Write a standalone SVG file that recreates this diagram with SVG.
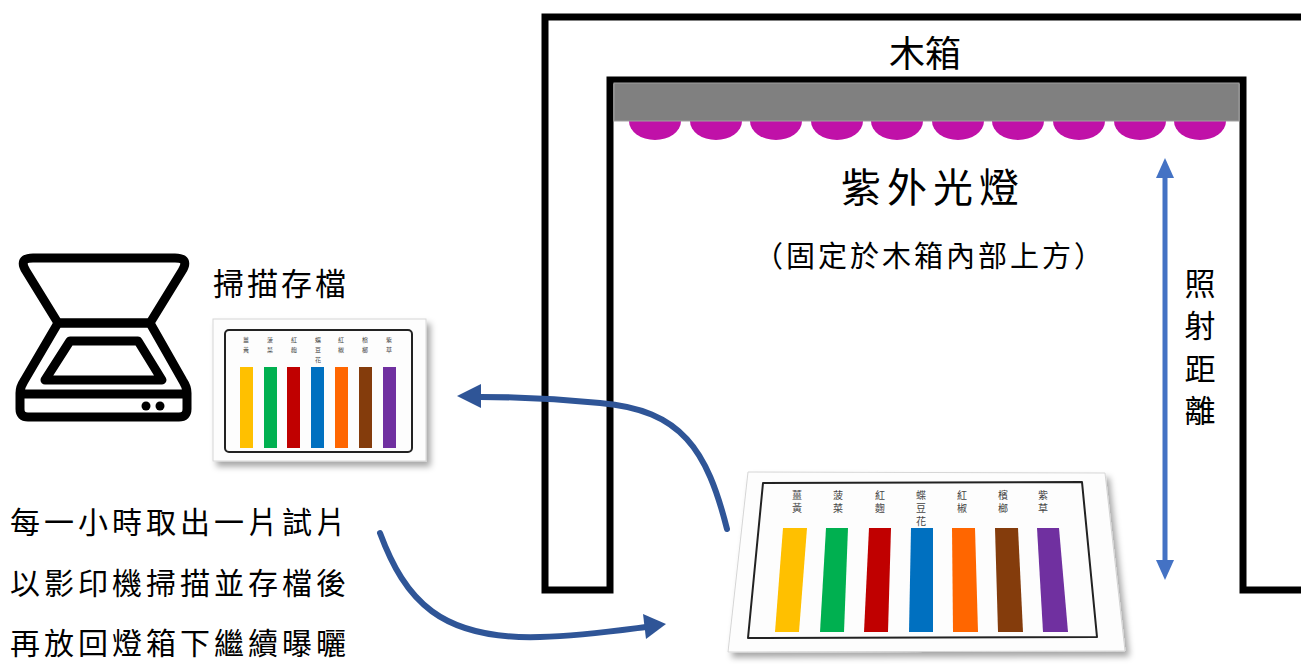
<svg xmlns="http://www.w3.org/2000/svg" width="1301" height="664" viewBox="0 0 1301 664">
  <defs>
    <style>
      .t { font-family: "Noto Sans CJK TC", "Noto Sans CJK SC", sans-serif; fill: #000; }
      .lbl { font-family: "Noto Sans CJK TC", "Noto Sans CJK SC", sans-serif; fill: #444; text-anchor: middle; }
      .wall { fill: #fff; stroke: #000; stroke-width: 7; stroke-linejoin: miter; }
      .lamp { fill: #C011A8; }
      .icon { fill: none; stroke: #000; stroke-width: 9; stroke-linejoin: round; stroke-linecap: round; }
      .flow { fill: none; stroke: #2F5597; stroke-width: 6; stroke-linecap: round; }
      .card { fill: #fdfdfd; stroke: #d6d6d6; stroke-width: 1; }
      .frame { fill: none; stroke: #222; stroke-width: 2; stroke-linejoin: round; }
    </style>
    <filter id="shadow" x="-10%" y="-10%" width="125%" height="130%">
      <feDropShadow dx="4" dy="5" stdDeviation="3" flood-color="#000" flood-opacity="0.35"/>
    </filter>
  </defs>

  <rect width="1301" height="664" fill="#fff"/>

  <!-- wooden box wall (U-shaped section) -->
  <g id="box">
    <path class="wall" d="M545,590 V17 H1310 V590 H1243 V80 H610 V590 Z"/>
    <text class="t" x="925" y="67" font-size="36" text-anchor="middle">木箱</text>
  </g>

  <!-- UV lamp strip -->
  <g id="uv-lamp">
    <g>
      <ellipse class="lamp" cx="655" cy="121" rx="26" ry="19"/>
      <ellipse class="lamp" cx="716" cy="121" rx="26" ry="19"/>
      <ellipse class="lamp" cx="776" cy="121" rx="26" ry="19"/>
      <ellipse class="lamp" cx="837" cy="121" rx="26" ry="19"/>
      <ellipse class="lamp" cx="897" cy="121" rx="26" ry="19"/>
      <ellipse class="lamp" cx="958" cy="121" rx="26" ry="19"/>
      <ellipse class="lamp" cx="1018" cy="121" rx="26" ry="19"/>
      <ellipse class="lamp" cx="1079" cy="121" rx="26" ry="19"/>
      <ellipse class="lamp" cx="1140" cy="121" rx="26" ry="19"/>
      <ellipse class="lamp" cx="1200" cy="121" rx="26" ry="19"/>
    </g>
    <rect x="614" y="83" width="625" height="38" fill="#808080" stroke="#a0a0a0" stroke-width="1"/>
    <text class="t" x="933" y="202" font-size="40" letter-spacing="6" text-anchor="middle">紫外光燈</text>
    <text class="t" x="930" y="267" font-size="29" letter-spacing="3" text-anchor="middle">（固定於木箱內部上方）</text>
  </g>

  <!-- irradiation distance -->
  <g id="distance">
    <line x1="1165" y1="178" x2="1165" y2="562" stroke="#4472C4" stroke-width="5"/>
    <polygon points="1165,158 1174,178 1156,178" fill="#4472C4"/>
    <polygon points="1165,580 1174,560 1156,560" fill="#4472C4"/>
    <g class="t" font-size="31" text-anchor="middle">
      <text x="1200" y="295">照</text>
      <text x="1200" y="337">射</text>
      <text x="1200" y="380">距</text>
      <text x="1200" y="422">離</text>
    </g>
  </g>

  <!-- scanner icon -->
  <g id="scanner">
    <path class="icon" d="M33,258 H175 Q190,258 182,271 L150,323 H58 L26,271 Q18,258 33,258 Z"/>
    <path class="icon" d="M58,323 H150 L183,381 Q187,387 187,393 V409 Q187,417 179,417 H28 Q20,417 20,409 V393 Q20,387 24,381 Z"/>
    <line class="icon" x1="22" y1="394" x2="185" y2="394"/>
    <path class="icon" stroke-width="8" d="M70,341 H138 L162,380 H45 Z"/>
    <circle cx="146" cy="406" r="4.5" fill="#000"/>
    <circle cx="160" cy="406" r="4.5" fill="#000"/>
    <text class="t" x="213" y="295" font-size="31" letter-spacing="3">掃描存檔</text>
  </g>

  <!-- scanned sample card -->
  <g id="scan-card">
    <rect class="card" x="213" y="319" width="213" height="142" filter="url(#shadow)"/>
    <rect class="frame" x="225" y="330" width="187" height="122" rx="4" stroke-width="1.5"/>
    <g class="lbl" font-size="6">
      <text x="246" y="342">薑</text><text x="246" y="352">黃</text>
      <text x="270" y="342">菠</text><text x="270" y="352">菜</text>
      <text x="294" y="342">紅</text><text x="294" y="352">麴</text>
      <text x="318" y="342">蝶</text><text x="318" y="352">豆</text><text x="318" y="362">花</text>
      <text x="341" y="342">紅</text><text x="341" y="352">椒</text>
      <text x="365" y="342">檳</text><text x="365" y="352">榔</text>
      <text x="389" y="342">紫</text><text x="389" y="352">草</text>
    </g>
    <rect x="240" y="367" width="13" height="81" fill="#FFC000"/>
    <rect x="264" y="367" width="13" height="81" fill="#00B050"/>
    <rect x="287" y="367" width="13" height="81" fill="#C00000"/>
    <rect x="311" y="367" width="13" height="81" fill="#0070C0"/>
    <rect x="335" y="367" width="13" height="81" fill="#FF6600"/>
    <rect x="359" y="367" width="13" height="81" fill="#843C0C"/>
    <rect x="383" y="367" width="13" height="81" fill="#7030A0"/>
  </g>

  <!-- sample card under the lamp (perspective) -->
  <g id="lamp-card">
    <polygon class="card" points="748,472 1105,473 1125,651 728,652" filter="url(#shadow)"/>
    <polygon class="frame" points="763,483 1082,482 1097,637 748,638"/>
    <g class="lbl" font-size="10">
      <text x="797" y="499">薑</text><text x="797" y="512">黃</text>
      <text x="838" y="499">菠</text><text x="838" y="512">菜</text>
      <text x="880" y="499">紅</text><text x="880" y="512">麴</text>
      <text x="921" y="499">蝶</text><text x="921" y="512">豆</text><text x="921" y="525">花</text>
      <text x="962" y="499">紅</text><text x="962" y="512">椒</text>
      <text x="1003" y="499">檳</text><text x="1003" y="512">榔</text>
      <text x="1043" y="499">紫</text><text x="1043" y="512">草</text>
    </g>
    <polygon points="783,528 807,528 799,632 775,632" fill="#FFC000"/>
    <polygon points="826,528 848,528 844,632 820,632" fill="#00B050"/>
    <polygon points="869,528 891,528 888,632 864,632" fill="#C00000"/>
    <polygon points="911,528 933,528 933,632 909,632" fill="#0070C0"/>
    <polygon points="952,528 975,528 978,632 953,632" fill="#FF6600"/>
    <polygon points="995,528 1018,528 1023,632 998,632" fill="#843C0C"/>
    <polygon points="1037,528 1059,528 1068,632 1043,632" fill="#7030A0"/>
  </g>

  <!-- process description -->
  <g id="steps">
    <g class="t" font-size="30" letter-spacing="4">
      <text x="10" y="533">每一小時取出一片試片</text>
      <text x="10" y="594">以影印機掃描並存檔後</text>
      <text x="10" y="654">再放回燈箱下繼續曝曬</text>
    </g>
  </g>

  <!-- connectors -->
  <g id="connectors">
    <path class="flow" d="M727,529 C707,450 682,410 600,403 C560,399 520,397 480,397"/>
    <polygon points="457,396 481,384 481,408" fill="#2F5597"/>
    <path class="flow" d="M380,533 C405,600 440,640 540,637 C580,636 615,631 646,627"/>
    <polygon points="666,624 643,614 646,639" fill="#2F5597"/>
  </g>
</svg>
